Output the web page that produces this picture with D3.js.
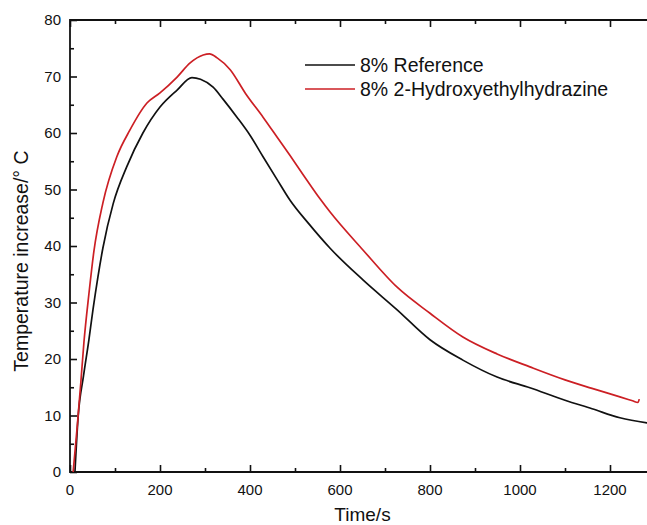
<!DOCTYPE html>
<html>
<head>
<meta charset="utf-8">
<title>Temperature increase</title>
<style>
  body { margin: 0; background: #fff; }
  svg text { font-family: 'Liberation Sans', Arial, sans-serif; fill: #111; }
</style>
<script src="https://d3js.org/d3.v7.min.js"></script>
</head>
<body>
<svg id="chart" width="647" height="525"></svg>
<script>
// values
var refTime = [11, 18, 30, 42, 51, 62, 73, 96, 126, 162, 200, 238, 271, 290, 318, 340, 371, 400, 429, 460, 489, 530, 578, 651, 727, 800, 873, 949, 1022, 1100, 1160, 1222, 1282, 1300];
var refTemp = [0, 9.7, 17, 23.4, 28.7, 34.5, 39.6, 47.5, 54, 60, 64.6, 67.6, 69.8, 69.5, 68.1, 66, 62.8, 59.6, 55.8, 51.8, 48.1, 44, 39.6, 34, 28.7, 23.4, 19.8, 16.8, 14.9, 12.7, 11.2, 9.6, 8.7, 8.5];

var hehTime = [7, 16, 24, 31, 42, 53, 73, 104, 133, 171, 200, 238, 267, 296, 310, 327, 356, 390, 429, 460, 489, 520, 556, 578, 651, 727, 800, 873, 949, 1022, 1100, 1160, 1222, 1250, 1262, 1265];
var hehTemp = [0, 8, 15.8, 23, 31.5, 39, 47.6, 55.8, 60.5, 65.3, 67.1, 69.9, 72.4, 73.8, 74, 73.3, 71.2, 67, 62.8, 59.3, 56, 52.4, 48.3, 46, 39.3, 32.7, 28.1, 23.9, 20.9, 18.6, 16.3, 14.8, 13.3, 12.6, 12.3, 12.9];

var seriesNames = ["8% Reference", "8% 2-Hydroxyethylhydrazine"];
var seriesColors = ["#111111", "#cc1f24"];
var xTicks = [0, 200, 400, 600, 800, 1000, 1200];
var yTicks = [0, 10, 20, 30, 40, 50, 60, 70, 80];

var svg = d3.select("#chart");
var mLeft = 70, mRight = 655, mTop = 20, mBottom = 472;

var x = d3.scaleLinear().domain([0, 1300]).range([mLeft, mRight]);
var y = d3.scaleLinear().domain([0, 80]).range([mBottom, mTop]);

var series = [
  refTime.map(function(t, i) { return [t, refTemp[i]]; }),
  hehTime.map(function(t, i) { return [t, hehTemp[i]]; })
];

// minor ticks first, then major ticks
var minorX = d3.range(100, 1300, 200);
var minorY = d3.range(5, 80, 10);

function tickAxis(g, axis) { g.call(axis); g.select(".domain").remove(); }

svg.append("g").attr("transform", "translate(0," + mBottom + ")")
  .call(tickAxis, d3.axisTop(x).tickValues(minorX).tickSize(4).tickFormat(""));
svg.append("g").attr("transform", "translate(0," + mBottom + ")")
  .call(tickAxis, d3.axisTop(x).tickValues(xTicks).tickSize(7).tickFormat(""));
svg.append("g").attr("transform", "translate(0," + mTop + ")")
  .call(tickAxis, d3.axisBottom(x).tickValues(minorX).tickSize(4).tickFormat(""));
svg.append("g").attr("transform", "translate(0," + mTop + ")")
  .call(tickAxis, d3.axisBottom(x).tickValues(xTicks).tickSize(7).tickFormat(""));
svg.append("g").attr("transform", "translate(" + mLeft + ",0)")
  .call(tickAxis, d3.axisRight(y).tickValues(minorY).tickSize(4).tickFormat(""));
svg.append("g").attr("transform", "translate(" + mLeft + ",0)")
  .call(tickAxis, d3.axisRight(y).tickValues(yTicks).tickSize(7).tickFormat(""));

svg.selectAll(".tick line").attr("stroke", "#111").attr("stroke-width", 1.6);

// tick labels
svg.append("g").selectAll("text").data(xTicks).join("text")
  .attr("x", function(d) { return x(d); })
  .attr("y", mBottom + 23)
  .attr("text-anchor", "middle")
  .attr("font-size", 15)
  .text(function(d) { return d; });

svg.append("g").selectAll("text").data(yTicks).join("text")
  .attr("x", mLeft - 9)
  .attr("y", function(d) { return y(d) + 5; })
  .attr("text-anchor", "end")
  .attr("font-size", 15)
  .text(function(d) { return d; });

// frame
svg.append("path")
  .attr("d", "M" + mRight + "," + mTop + "H" + mLeft + "V" + mBottom + "H" + mRight)
  .attr("fill", "none").attr("stroke", "#111").attr("stroke-width", 1.8);

// curves
var line = d3.line()
  .curve(d3.curveMonotoneX)
  .x(function(d) { return x(d[0]); })
  .y(function(d) { return y(d[1]); });

svg.append("g").selectAll("path").data(series).join("path")
  .attr("d", line)
  .attr("fill", "none")
  .attr("stroke", function(d, i) { return seriesColors[i]; })
  .attr("stroke-width", 1.7)
  .attr("stroke-linejoin", "round");

// legend
var legend = svg.append("g").attr("transform", "translate(305,65)");
seriesNames.forEach(function(name, i) {
  legend.append("line")
    .attr("x1", 0).attr("x2", 50).attr("y1", i * 24).attr("y2", i * 24)
    .attr("stroke", seriesColors[i]).attr("stroke-width", 1.7);
  legend.append("text")
    .attr("x", 55).attr("y", i * 24 + 7)
    .attr("font-size", 19.5)
    .text(name);
});

// axis titles
svg.append("text")
  .attr("x", (mLeft + mRight) / 2).attr("y", 521)
  .attr("text-anchor", "middle").attr("font-size", 19)
  .text("Time/s");

svg.append("text")
  .attr("transform", "translate(28,261) rotate(-90)")
  .attr("text-anchor", "middle").attr("font-size", 19.5)
  .text("Temperature increase/° C");
</script>
</body>
</html>
